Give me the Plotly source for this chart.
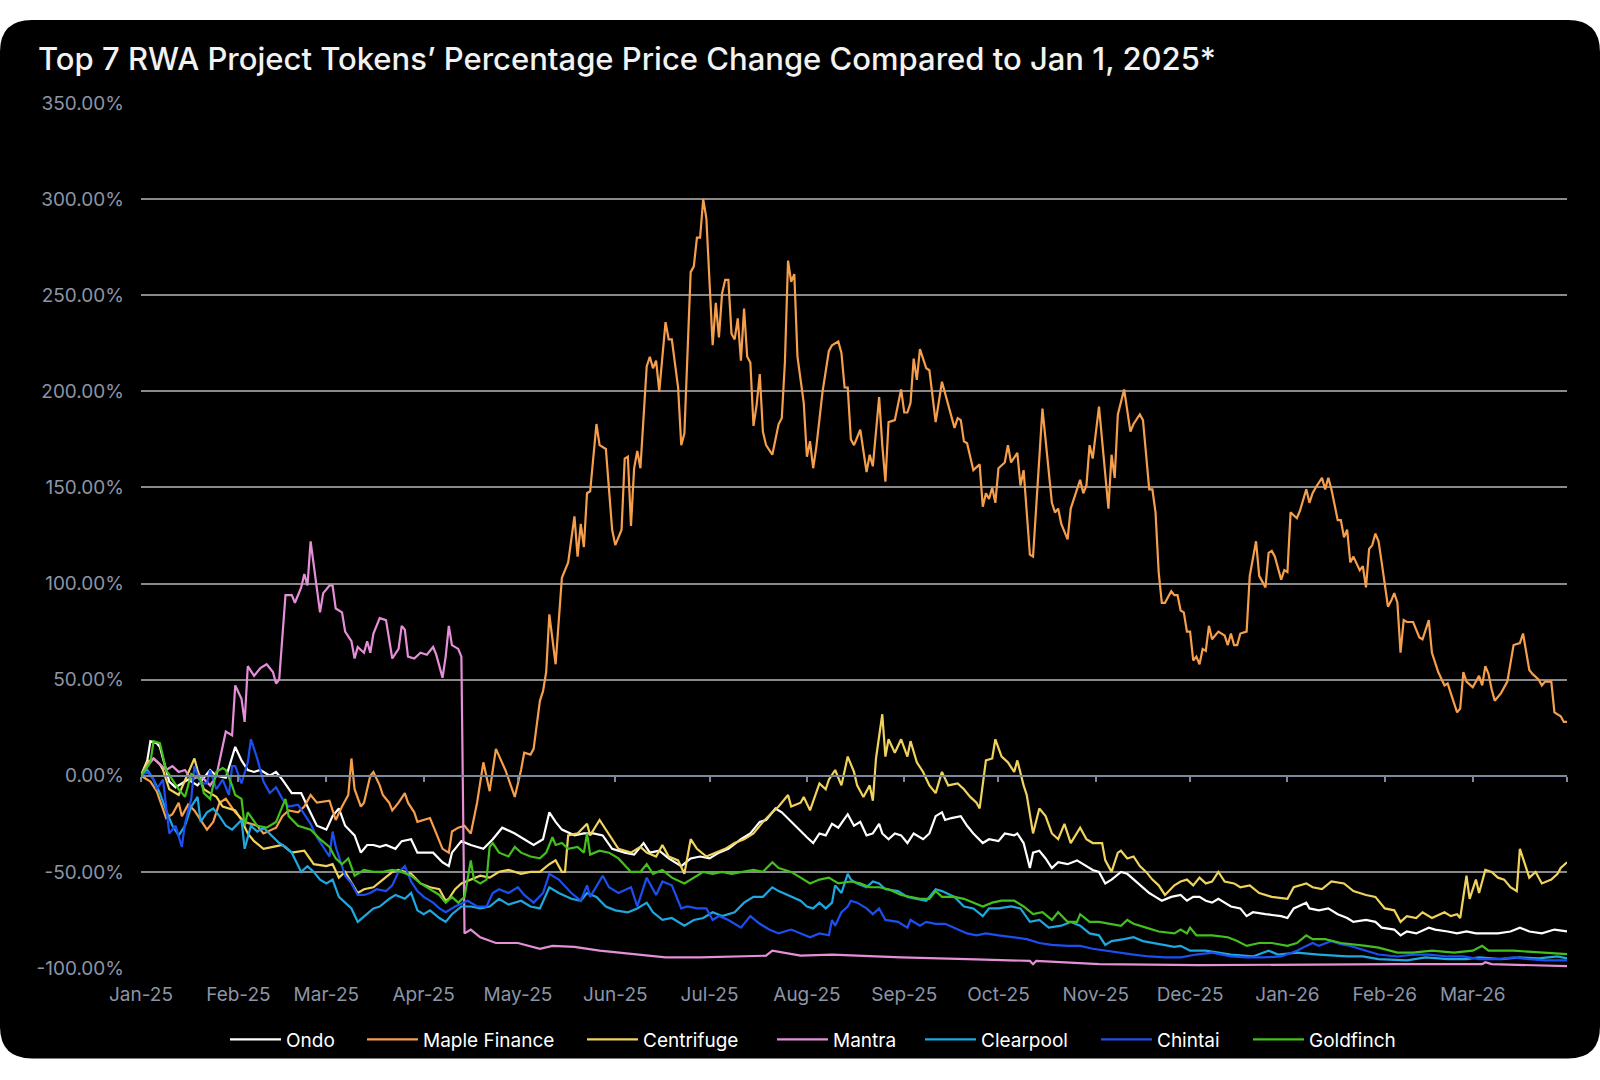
import pandas as pd
import plotly.graph_objects as go

TITLE = "Top 7 RWA Project Tokens’ Percentage Price Change Compared to Jan 1, 2025*"
START = "2025-01-01"

# (day offset from Jan 1 2025, % change vs Jan 1 2025)
ondo = [(0,0),(2,8),(3,18),(5,17),(6,15),(9,-3),(11,-6),(13,-4),(15,-2),(18,-5),(20,-1),(22,3),(24,0),(27,-1),
    (30,15),(32,8),(34,3),(36,2),(38,3),(41,0),(43,2),(45,-2),(48,-9),(51,-9),(53,-16),(56,-26),(59,-28),(61,-21),
    (63,-17),(65,-26),(68,-31),(70,-40),(72,-36),(74,-36),(76,-37),(78,-36),(81,-38),(83,-34),(86,-33),(88,-40),
    (90,-40),(93,-40),(96,-45),(98,-47),(99,-40),(102,-34),(105,-36),(109,-38),(112,-33),(115,-27),(119,-30),
    (122,-33),(125,-36),(128,-33),(130,-19),(132,-24),(134,-28),(138,-31),(141,-30),(144,-30),(147,-31),(150,-38),
    (154,-40),(157,-41),(160,-35),(162,-40),(165,-39),(168,-43),(172,-47),(175,-43),(178,-42),(181,-43),(184,-40),
    (187,-38),(191,-33),(194,-30),(197,-24),(199,-23),(202,-17),(204,-19),(207,-24),(210,-29),(212,-32),(214,-35),
    (216,-30),(218,-31),(220,-25),(222,-27),(225,-20),(227,-26),(229,-24),(231,-31),(233,-30),(235,-25),(236,-30),
    (238,-33),(240,-30),(242,-31),(244,-35),(246,-30),(249,-33),(251,-30),(253,-21),(255,-19),(256,-23),(258,-22),
    (261,-21),(263,-26),(265,-30),(268,-35),(270,-33),(273,-34),(275,-30),(278,-31),(279,-30),(281,-35),(283,-48),
    (284,-40),(286,-39),(288,-43),(290,-48),(292,-45),(295,-46),(298,-44),(300,-46),(303,-49),(305,-50),(307,-56),
    (309,-54),(312,-50),(314,-51),(316,-54),(318,-57),(321,-61),(323,-63),(325,-65),(328,-63),(331,-62),(333,-65),
    (335,-63),(337,-63),(339,-65),(341,-66),(343,-64),(347,-68),(350,-69),(352,-73),(354,-71),(358,-72),(363,-73),
    (365,-74),(367,-69),(371,-66),(372,-69),(375,-70),(378,-69),(381,-72),(384,-74),(386,-76),(390,-75),(393,-76),
    (395,-79),(399,-80),(401,-83),(403,-81),(406,-82),(410,-79),(412,-80),(416,-81),(419,-82),(422,-81),(425,-82),
    (428,-82),(432,-82),(436,-81),(439,-79),(442,-81),(446,-82),(450,-80),(454,-81)]

maple = [(0,0),(3,-3),(5,-8),(8,-22),(10,-20),(12,-14),(13,-21),(15,-15),(17,-18),(21,-28),
    (23,-24),(25,-14),(27,-12),(30,-19),(33,-24),(37,-26),(39,-30),(43,-27),(45,-21),(47,-18),
    (50,-19),(52,-16),(54,-10),(56,-14),(60,-13),(62,-23),(64,-16),(66,-10),(67,9),(68,-7),
    (70,-16),(71,-14),(73,0),(74,2),(76,-5),(77,-10),(79,-14),(80,-18),(82,-14),(84,-9),
    (85,-14),(87,-19),(88,-24),(90,-23),(92,-22),(94,-30),(96,-38),(98,-40),(99,-29),(101,-27),
    (103,-26),(105,-30),(107,-14),(109,7),(111,-8),(113,14),(114,10),(116,3),(119,-11),(121,3),
    (122,12),(124,11),(125,14),(127,39),(128,44),(129,54),(130,84),(132,58),(134,103),(136,111),
    (138,135),(139,114),(140,131),(141,119),(142,147),(143,148),(145,183),(146,172),(148,170),(150,128),
    (151,120),(153,128),(154,165),(155,166),(156,130),(157,160),(158,169),(159,160),(161,213),(162,218),
    (163,212),(164,216),(165,200),(167,236),(168,227),(169,227),(171,202),(172,172),(173,178),(175,262),
    (176,265),(177,280),(178,280),(179,300),(180,290),(182,224),(183,246),(184,228),(185,251),(186,258),
    (187,258),(188,230),(189,227),(190,238),(191,216),(192,243),(193,218),(194,215),(195,182),(196,193),
    (197,209),(198,179),(199,172),(201,167),(203,183),(204,186),(205,215),(206,268),(207,257),(208,261),
    (209,218),(211,194),(212,166),(213,174),(214,160),(215,171),(217,200),(219,221),(220,224),(222,226),
    (223,220),(224,202),(225,202),(226,175),(227,172),(229,180),(231,158),(232,167),(233,161),(235,197),
    (236,172),(237,153),(238,184),(240,185),(242,201),(243,189),(244,189),(245,194),(246,217),(247,206),
    (248,222),(250,212),(251,211),(253,184),(255,205),(256,199),(259,181),(260,186),(261,185),(262,174),
    (263,173),(265,159),(267,162),(268,140),(269,147),(270,144),(271,150),(272,142),(273,160),(275,163),
    (276,172),(277,163),(279,168),(280,151),(281,159),(283,115),(284,114),(287,191),(290,142),(291,137),
    (292,139),(293,131),(295,123),(296,139),(297,144),(299,154),(300,147),(301,151),(302,172),(303,165),
    (305,192),(306,175),(308,139),(309,167),(310,155),(311,188),(313,201),(315,179),(316,183),(318,188),
    (319,185),(321,149),(322,149),(323,137),(324,106),(325,90),(326,90),(328,96),(329,94),(330,94),
    (331,86),(332,85),(333,75),(334,75),(335,60),(336,62),(337,58),(338,66),(339,65),(340,78),
    (341,71),(343,75),(345,73),(346,68),(347,74),(348,68),(349,68),(350,74),(352,75),(353,104),
    (355,122),(356,104),(358,98),(359,116),(360,117),(361,114),(363,102),(364,107),(365,106),(366,137),
    (368,134),(369,138),(371,149),(372,142),(373,147),(374,150),(376,155),(377,149),(378,155),(379,149),
    (381,133),(382,133),(383,124),(384,128),(385,111),(386,114),(388,107),(389,109),(390,98),(391,118),
    (392,120),(393,126),(394,122),(395,111),(397,88),(398,91),(399,95),(400,90),(401,64),(402,81),
    (403,80),(405,80),(407,72),(408,71),(410,81),(411,64),(413,54),(415,47),(416,48),(417,43),
    (419,33),(420,35),(421,54),(422,49),(424,46),(425,49),(426,52),(427,47),(428,57),(429,53),
    (430,45),(431,39),(433,43),(435,49),(436,58),(437,68),(439,69),(440,74),(442,55),(443,53),
    (445,50),(446,47),(447,49),(449,49),(450,33),(452,31),(453,28),(454,28)]

centrifuge = [(0,0),(2,7),(4,9),(6,6),(7,3),(9,-7),(12,-10),(15,2),(17,9),(18,3),(20,-7),(22,-9),(24,-11),
    (26,-16),(28,-17),(30,-18),(32,-23),(34,-30),(36,-34),(39,-38),(42,-37),(45,-36),(48,-40),(52,-39),(55,-46),
    (59,-47),(61,-46),(63,-53),(65,-50),(69,-61),(71,-59),(74,-58),(77,-54),(80,-50),(82,-49),(86,-51),(89,-56),
    (92,-58),(95,-59),(97,-65),(98,-64),(100,-59),(102,-56),(105,-54),(108,-52),(111,-53),(114,-50),(117,-49),
    (121,-51),(124,-50),(127,-50),(130,-46),(132,-44),(134,-50),(135,-50),(136,-31),(139,-30),(142,-25),(143,-31),
    (146,-23),(148,-28),(150,-33),(152,-38),(156,-40),(159,-37),(161,-40),(164,-42),(166,-36),(168,-42),(171,-44),
    (173,-51),(175,-33),(177,-38),(180,-42),(183,-40),(186,-38),(189,-35),(192,-33),(195,-30),(198,-24),(201,-19),
    (203,-16),(206,-10),(207,-16),(210,-14),(211,-11),(213,-18),(215,-9),(216,-4),(218,-7),(219,-2),(221,3),
    (223,-5),(225,10),(227,2),(228,-5),(230,-11),(232,-5),(233,-13),(234,9),(236,32),(237,10),(238,19),(240,12),
    (242,19),(244,10),(245,18),(247,7),(249,2),(251,-5),(253,-9),(255,2),(257,-5),(260,-4),(262,-7),(264,-11),
    (266,-14),(267,-17),(269,8),(271,9),(272,19),(274,10),(276,7),(278,2),(279,8),(281,-5),(282,-10),(284,-30),
    (286,-17),(288,-21),(290,-30),(292,-33),(294,-25),(296,-35),(299,-27),(301,-33),(303,-35),(306,-35),(307,-44),
    (309,-50),(311,-40),(312,-39),(314,-43),(316,-42),(318,-47),(320,-50),(322,-54),(324,-57),(326,-62),(329,-57),
    (331,-55),(333,-54),(335,-57),(337,-53),(339,-56),(341,-55),(343,-50),(345,-55),(348,-56),(350,-58),(353,-57),
    (356,-61),(360,-63),(365,-64),(367,-58),(371,-56),(373,-58),(376,-59),(379,-55),(383,-56),(386,-60),(390,-62),
    (393,-63),(396,-69),(399,-70),(401,-76),(403,-73),(406,-74),(408,-71),(411,-74),(415,-71),(417,-73),(419,-72),
    (420,-74),(422,-52),(423,-64),(425,-54),(426,-61),(428,-49),(430,-50),(432,-53),(434,-54),(436,-58),(438,-60),
    (439,-38),(442,-53),(444,-50),(446,-56),(449,-54),(451,-51),(452,-48),(454,-45)]

mantra = [(0,0),(2,5),(4,9),(6,6),(8,3),(10,5),(12,2),(14,3),(16,-2),(19,0),(22,-5),(24,0),(26,16),(27,23),
    (29,21),(30,47),(32,40),(33,28),(34,57),(36,52),(38,56),(40,58),(42,54),(43,48),(44,50),(46,94),(48,94),
    (49,90),(51,98),(52,105),(53,99),(54,122),(57,85),(58,95),(60,99),(61,99),(62,87),(64,85),(65,75),(67,70),
    (68,61),(69,67),(71,64),(72,70),(73,64),(74,74),(76,82),(78,81),(80,61),(82,66),(83,78),(84,76),(85,62),
    (87,61),(89,64),(91,63),(93,67),(94,63),(96,51),(97,62),(98,78),(99,68),(101,66),(102,62),(103,-82),(105,-80),
    (108,-84),(111,-86),(113,-87),(120,-87),(127,-90),(131,-88.5),(138,-89),(146,-91),(157,-93),(167,-94.5),
    (178,-94.5),(199,-93.6),(201,-91),(210,-93.6),(220,-93),(242,-94.5),(263,-95.4),(283,-96.3),(284,-98),
    (285,-96.3),(305,-98),(337,-98.5),(400,-98),(427,-98),(428,-97),(430,-98),(454,-99)]

clearpool = [(0,0),(2,3),(4,-2),(6,-9),(8,-18),(10,-26),(12,-31),(14,-26),(16,-16),(18,-11),(19,-24),(21,-19),
    (23,-17),(25,-21),(27,-26),(29,-28),(32,-23),(33,-38),(35,-26),(37,-29),(39,-27),(41,-30),(44,-35),(46,-37),
    (48,-40),(51,-50),(53,-47),(55,-50),(57,-54),(59,-56),(61,-54),(63,-63),(67,-69),(69,-76),(71,-73),(74,-69),
    (76,-68),(79,-64),(81,-62),(84,-64),(86,-61),(88,-70),(90,-72),(92,-70),(95,-74),(97,-76),(99,-72),(102,-68),
    (105,-68),(108,-69),(111,-68),(114,-64),(117,-67),(121,-65),(124,-68),(127,-69),(130,-58),(133,-61),(137,-64),
    (140,-65),(142,-61),(145,-63),(148,-68),(151,-70),(155,-71),(158,-69),(161,-66),(163,-71),(166,-75),(169,-74),
    (173,-78),(176,-75),(179,-74),(182,-71),(185,-73),(189,-71),(192,-66),(195,-63),(198,-63),(201,-58),(203,-60),
    (207,-63),(210,-65),(212,-68),(214,-69),(216,-66),(218,-69),(220,-66),(221,-57),(223,-61),(225,-51),(226,-54),
    (228,-56),(231,-58),(233,-55),(235,-56),(237,-59),(241,-60),(244,-63),(247,-64),(250,-65),(253,-59),(255,-60),
    (259,-63),(262,-68),(265,-69),(268,-73),(270,-69),(273,-69),(277,-68),(280,-69),(283,-76),(286,-75),(289,-79),
    (293,-78),(296,-76),(299,-78),(302,-82),(305,-83),(307,-88),(309,-86),(313,-85),(316,-84),(319,-86),(322,-87),
    (325,-88),(329,-89),(331,-88.5),(334,-91),(339,-91),(347,-93),(354,-94),(359,-91),(362,-93),(368,-92),
    (375,-93),(384,-94),(389,-94),(394,-95.4),(403,-96),(409,-94.5),(416,-95.4),(422,-95.4),(426,-94.5),
    (433,-95.4),(439,-94.5),(445,-95),(451,-94),(454,-95)]

chintai = [(0,0),(2,2),(4,-2),(5,-7),(7,-2),(9,-30),(11,-26),(13,-37),(14,-25),(16,-12),(17,5),(19,-4),(21,-4),
    (22,3),(24,-7),(26,-2),(28,-10),(29,5),(30,5),(32,-4),(34,7),(35,19),(37,9),(39,-3),(41,-9),(43,-6),(45,-12),
    (47,-16),(50,-15),(52,-20),(54,-25),(56,-32),(58,-37),(60,-42),(61,-29),(62,-37),(65,-52),(67,-56),(69,-62),
    (71,-62),(73,-61),(75,-59),(78,-60),(80,-57),(82,-50),(84,-47),(86,-55),(88,-60),(90,-63),(93,-66),(95,-69),
    (97,-71),(100,-68),(104,-65),(107,-68),(110,-68),(112,-61),(114,-59),(117,-61),(120,-58),(122,-62),(125,-66),
    (128,-61),(130,-51),(133,-54),(137,-61),(140,-65),(142,-57),(143,-63),(147,-52),(149,-58),(152,-61),(156,-58),
    (158,-68),(161,-53),(164,-62),(166,-55),(169,-57),(172,-69),(174,-68),(177,-69),(180,-69),(182,-75),(184,-73),
    (187,-75),(191,-79),(194,-73),(197,-77),(200,-80),(203,-82),(207,-80),(210,-82),(213,-84),(216,-82),(219,-83),
    (220,-75),(221,-78),(223,-71),(225,-68),(226,-65),(228,-66),(231,-69),(233,-72),(235,-69),(237,-75),(241,-76),
    (244,-79),(245,-75),(248,-78),(250,-76),(253,-77),(256,-77),(260,-80),(263,-82),(266,-83),(269,-82),(273,-83),
    (278,-84),(282,-85),(286,-87),(290,-88),(295,-88.5),(299,-88.5),(303,-90),(307,-91),(312,-92),(316,-93),
    (321,-94),(326,-94.5),(331,-94.5),(336,-93),(341,-92),(347,-94),(352,-94.5),(357,-94.5),(363,-94),(368,-91),
    (371,-88.5),(373,-87),(375,-88.5),(379,-86),(382,-87.6),(385,-88.5),(390,-91),(394,-93),(400,-94),(405,-93),
    (410,-93),(416,-94),(421,-94),(426,-95.4),(432,-95.4),(437,-94.5),(442,-95.4),(447,-96),(454,-96)]

goldfinch = [(0,0),(3,7),(4,18),(6,17),(8,3),(10,-2),(12,-7),(14,-11),(16,1),(19,-2),(20,-9),(22,-12),(24,2),
    (26,4),(27,3),(29,-5),(30,-10),(32,-12),(33,-26),(34,-19),(37,-26),(40,-27),(43,-24),(46,-12),(47,-21),(50,-26),
    (52,-27),(54,-28),(57,-33),(60,-37),(62,-43),(64,-46),(66,-43),(68,-52),(71,-49),(74,-50),(77,-50),(80,-49),
    (83,-50),(86,-52),(89,-56),(92,-59),(95,-62),(97,-66),(99,-63),(101,-66),(103,-63),(105,-44),(106,-54),(108,-56),
    (110,-54),(111,-37),(112,-35),(114,-40),(117,-42),(119,-37),(121,-40),(124,-42),(127,-43),(129,-40),(131,-32),
    (132,-36),(134,-35),(136,-38),(139,-37),(141,-40),(142,-30),(143,-41),(146,-39),(149,-40),(152,-43),(156,-50),
    (159,-50),(161,-46),(163,-51),(166,-49),(169,-53),(173,-56),(176,-53),(179,-50),(182,-51),(185,-50),(188,-51),
    (192,-50),(195,-49),(198,-50),(201,-45),(203,-48),(207,-50),(210,-53),(213,-56),(216,-54),(219,-53),(222,-56),
    (226,-55),(229,-56),(232,-58),(235,-58),(238,-59),(242,-62),(245,-63),(248,-64),(251,-64),(253,-60),(255,-63),
    (259,-63),(262,-64),(265,-66),(268,-68),(271,-66),(274,-65),(278,-65),(281,-68),(284,-72),(287,-71),(290,-75),
    (292,-71),(295,-76),(298,-76),(299,-72),(302,-76),(305,-76),(308,-77),(312,-78),(314,-75),(316,-77),(320,-79),
    (324,-81),(329,-82),(331,-80),(333,-82),(334,-79),(336,-83),(341,-83),(346,-84),(349,-86),(352,-88.5),
    (356,-87),(360,-87),(365,-88.5),(368,-87),(371,-83),(373,-85),(377,-85),(382,-87),(386,-87.6),(390,-88.5),
    (394,-89.4),(400,-92),(405,-92),(411,-91),(418,-92),(424,-91),(427,-88.5),(429,-91),(437,-91),(445,-92),
    (454,-92.8)]

series_names = ["Ondo", "Maple Finance", "Centrifuge", "Mantra", "Clearpool", "Chintai", "Goldfinch"]
series_data = [ondo, maple, centrifuge, mantra, clearpool, chintai, goldfinch]
series_colors = ["#ffffff", "#f59e4c", "#f0d35c", "#e58fd8", "#1fa8e0", "#1d4ff0", "#43c01d"]

month_ticks = pd.date_range("2025-01-01", "2026-03-01", freq="MS")
month_labels = [d.strftime("%b-%y") for d in month_ticks]
y_ticks = list(range(-100, 351, 50))
y_labels = [f"{v:.2f}%" for v in y_ticks]

base = pd.Timestamp(START)
def to_xy(points):
    days, vals = zip(*points)
    return [base + pd.Timedelta(days=d) for d in days], list(vals)

W, H = 1600, 1080
ML, MR, MT, MB = 141, 33, 103, 111.5
PW, PH = W - ML - MR, H - MT - MB

FONT = "Inter, Liberation Sans, Arial"
# left pixel of each legend entry (one legend box per entry, laid out in a row)
legend_left_px = [230, 367, 587, 777, 925, 1101, 1253]
legend_y_px = 1040

fig = go.Figure()
last_date = None
layout_legends = {}
for i, (name, pts, col) in enumerate(zip(series_names, series_data, series_colors)):
    x, y = to_xy(pts)
    last_date = x[-1]
    lg = "legend" if i == 0 else f"legend{i + 1}"
    fig.add_trace(go.Scatter(x=x, y=y, name=name, mode="lines", legend=lg,
                             line=dict(color=col, width=2.2), hoverinfo="skip"))
    layout_legends[lg] = dict(
        orientation="h", x=(legend_left_px[i] - ML - 5) / PW, xanchor="left",
        y=(H - MB - legend_y_px) / PH, yanchor="middle",
        font=dict(family=FONT, size=19, color="#ffffff"),
        bgcolor="rgba(0,0,0,0)", borderwidth=0, itemwidth=51)

# invisible trace to carry the zero-line axis with its month ticks
x0, _ = to_xy(ondo)
fig.add_trace(go.Scatter(x=[x0[0], x0[-1]], y=[0, 0], xaxis="x2", mode="lines",
                         line=dict(width=0, color="rgba(0,0,0,0)"), showlegend=False, hoverinfo="skip"))

# rounded dark card (paper coordinates computed from pixel box)
def px_to_paper(px, py):
    return (px - ML) / PW, (H - MB - py) / PH
def card_path(x0p, y0p, x1p, y1p, r):
    def P(px, py):
        a, b = px_to_paper(px, py)
        return f"{a:.5f},{b:.5f}"
    return (f"M {P(x0p + r, y0p)} L {P(x1p - r, y0p)} Q {P(x1p, y0p)} {P(x1p, y0p + r)} "
            f"L {P(x1p, y1p - r)} Q {P(x1p, y1p)} {P(x1p - r, y1p)} "
            f"L {P(x0p + r, y1p)} Q {P(x0p, y1p)} {P(x0p, y1p - r)} "
            f"L {P(x0p, y0p + r)} Q {P(x0p, y0p)} {P(x0p + r, y0p)} Z")

fig.add_shape(type="path", xref="paper", yref="paper", path=card_path(0, 20, 1600, 1059, 32),
              fillcolor="#000000", line=dict(width=0), layer="below")

tick_font = dict(family=FONT, size=19, color="#8b95a7")
zero_pos = (0 - y_ticks[0]) / (y_ticks[-1] - y_ticks[0])

fig.update_layout(
    width=W, height=H,
    margin=dict(l=ML, r=MR, t=MT, b=MB, autoexpand=False),
    paper_bgcolor="#ffffff", plot_bgcolor="rgba(0,0,0,0)",
    title=dict(text=TITLE, x=38 / W, xanchor="left", xref="container",
               y=1 - 59 / H, yanchor="middle", yref="container",
               font=dict(family=FONT, size=31, color="#f2f2f2", weight=500)),
    showlegend=True,
    xaxis=dict(range=[base, last_date], tickvals=list(month_ticks), ticktext=month_labels,
               showgrid=False, zeroline=False, showline=False, ticks="",
               tickfont=tick_font, ticklabelstandoff=13),
    xaxis2=dict(overlaying="x", matches="x", anchor="free", position=zero_pos, side="bottom",
                tickvals=list(month_ticks) + [last_date], showticklabels=False,
                ticks="outside", ticklen=5, tickwidth=2, tickcolor="#7c889c",
                showline=True, linecolor="#7c889c", linewidth=2, showgrid=False, zeroline=False),
    yaxis=dict(range=[y_ticks[0], y_ticks[-1]], tickvals=y_ticks, ticktext=y_labels,
               showgrid=True, gridcolor="#8a8a8a", gridwidth=1.5, zeroline=False, showline=False,
               ticks="", tickfont=tick_font, ticklabelstandoff=16),
    hovermode=False,
    **layout_legends,
)

fig.write_html("out.html")
